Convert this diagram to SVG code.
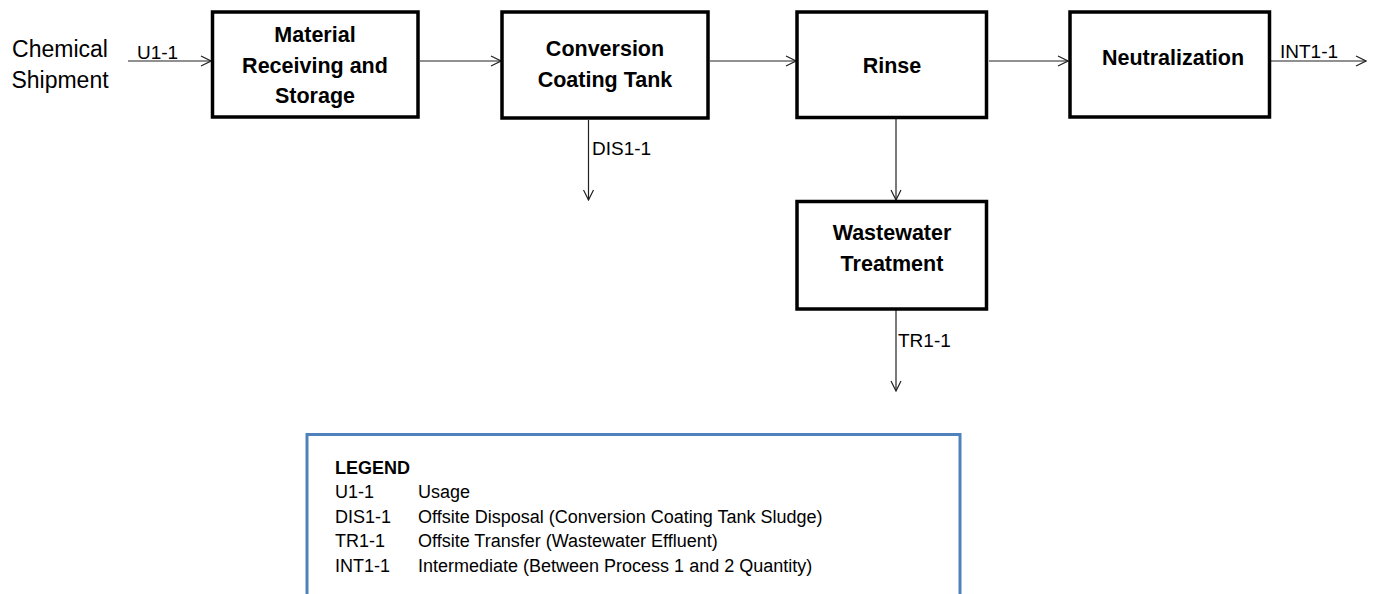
<svg xmlns="http://www.w3.org/2000/svg" width="1376" height="594" viewBox="0 0 1376 594">
<style>
.box{fill:#fff;stroke:#000;stroke-width:3.5}
.title{font-family:"Liberation Sans",Arial,sans-serif;font-weight:bold;font-size:21.5px;fill:#000;text-anchor:middle}
.lbl{font-family:"Liberation Sans",Arial,sans-serif;font-size:19px;fill:#000}
.big{font-family:"Liberation Sans",Arial,sans-serif;font-size:23px;fill:#000;text-anchor:middle}
.conn{stroke:#222;stroke-width:1.2;fill:none;marker-end:url(#arr)}
.leg{font-family:"Liberation Sans",Arial,sans-serif;font-size:18px;fill:#000}
</style>
<defs>
<marker id="arr" markerUnits="userSpaceOnUse" markerWidth="12" markerHeight="12" refX="11" refY="6" orient="auto">
<path d="M1,1 L11,6 L1,11" fill="none" stroke="#222" stroke-width="1.2"/>
</marker>
</defs>
<rect width="1376" height="594" fill="#fff"/>
<g id="connectors">
<line class="conn" x1="128" y1="61" x2="211" y2="61"/>
<line class="conn" x1="420" y1="61" x2="501" y2="61"/>
<line class="conn" x1="710" y1="61" x2="796" y2="61"/>
<line class="conn" x1="989" y1="61" x2="1068" y2="61"/>
<line class="conn" x1="1271" y1="61" x2="1366" y2="61"/>
<line class="conn" x1="588.5" y1="120" x2="588.5" y2="200"/>
<line class="conn" x1="896" y1="119" x2="896" y2="200"/>
<line class="conn" x1="896" y1="310" x2="896" y2="391"/>
<text class="lbl" x="137" y="59">U1-1</text>
<text class="lbl" x="1280" y="58">INT1-1</text>
<text class="lbl" x="592" y="155">DIS1-1</text>
<text class="lbl" x="898" y="347">TR1-1</text>
</g>
<g id="source">
<text class="big" x="60" y="57">Chemical</text>
<text class="big" x="60" y="88">Shipment</text>
</g>
<g id="material">
<rect class="box" x="212.5" y="12" width="205.5" height="105"/>
<text class="title" x="315" y="42">Material</text>
<text class="title" x="315" y="73">Receiving and</text>
<text class="title" x="315" y="103">Storage</text>
</g>
<g id="conversion">
<rect class="box" x="502" y="12" width="206" height="106"/>
<text class="title" x="605" y="56">Conversion</text>
<text class="title" x="605" y="87">Coating Tank</text>
</g>
<g id="rinse">
<rect class="box" x="797" y="12" width="189.5" height="105.5"/>
<text class="title" x="892" y="73">Rinse</text>
</g>
<g id="neutralization">
<rect class="box" x="1070" y="12" width="199.5" height="105"/>
<text class="title" x="1173" y="65">Neutralization</text>
</g>
<g id="wastewater">
<rect class="box" x="797" y="201.5" width="189.5" height="107.5"/>
<text class="title" x="892" y="240">Wastewater</text>
<text class="title" x="892" y="271">Treatment</text>
</g>
<g id="legend">
<rect x="307" y="434.5" width="653" height="170" fill="none" stroke="#4F81BD" stroke-width="3"/>
<text class="leg" x="335" y="474" font-weight="bold">LEGEND</text>
<text class="leg" x="335" y="498">U1-1</text>
<text class="leg" x="418" y="498">Usage</text>
<text class="leg" x="335" y="523">DIS1-1</text>
<text class="leg" x="418" y="523">Offsite Disposal (Conversion Coating Tank Sludge)</text>
<text class="leg" x="335" y="547">TR1-1</text>
<text class="leg" x="418" y="547">Offsite Transfer (Wastewater Effluent)</text>
<text class="leg" x="335" y="572">INT1-1</text>
<text class="leg" x="418" y="572">Intermediate (Between Process 1 and 2 Quantity)</text>
</g>
</svg>
